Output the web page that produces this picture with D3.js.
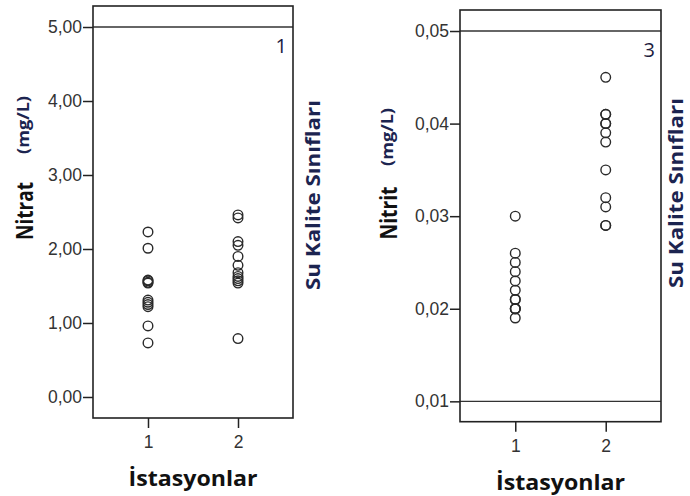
<!DOCTYPE html>
<html><head><meta charset="utf-8">
<script src="https://cdn.jsdelivr.net/npm/d3@7"></script>
<style>
html,body{margin:0;padding:0;background:#fff;}
svg{display:block;}
</style></head>
<body>
<svg id="chart" width="690" height="496"></svg>
<script>
// ---- data ----
const stations = [1, 2];
const nitratStation1 = [2.23, 2.01, 1.58, 1.57, 1.55, 1.54, 1.31, 1.28, 1.25, 1.22, 0.96, 0.73];
const nitratStation2 = [2.46, 2.42, 2.10, 2.05, 1.90, 1.78, 1.68, 1.63, 1.60, 1.57, 1.54, 0.79];
const nitritStation1 = [0.030, 0.026, 0.025, 0.024, 0.023, 0.022, 0.021, 0.021, 0.020, 0.020, 0.020, 0.019];
const nitritStation2 = [0.045, 0.041, 0.041, 0.040, 0.040, 0.039, 0.038, 0.035, 0.032, 0.031, 0.029, 0.029];
const nitratTicks = [0, 1, 2, 3, 4, 5];
const nitratTickLabels = ["0,00", "1,00", "2,00", "3,00", "4,00", "5,00"];
const nitritTicks = [0.01, 0.02, 0.03, 0.04, 0.05];
const nitritTickLabels = ["0,01", "0,02", "0,03", "0,04", "0,05"];
const nitratLimits = [5];
const nitritLimits = [0.05, 0.01];
const nitratClass = "1";
const nitritClass = "3";
const xTitle = "İstasyonlar";
const rightTitle = "Su Kalite Sınıfları";
const unitLabel = "(mg/L)";

const svg = d3.select("#chart");

function panel(cfg) {
  const g = svg.append("g");
  const x = d3.scaleLinear().domain([0.389, 2.611]).range([cfg.left, cfg.right]);
  const y = d3.scaleLinear().domain(cfg.yDomain).range([cfg.bottom, cfg.top]);

  // y axis
  const ya = g.append("g").attr("transform", `translate(${cfg.left},0)`)
    .call(d3.axisLeft(y).tickValues(cfg.ticks)
      .tickFormat((d, i) => cfg.tickLabels[i]).tickSize(10).tickSizeOuter(0).tickPadding(1));
  ya.select(".domain").remove();
  ya.selectAll(".tick line").attr("stroke", "#222").attr("stroke-width", 1.5);
  ya.selectAll(".tick text").attr("font-family", "Liberation Sans, Arial, sans-serif")
    .attr("font-size", 17.5).attr("fill", "#333");

  // x axis
  const xa = g.append("g").attr("transform", `translate(0,${cfg.bottom})`)
    .call(d3.axisBottom(x).tickValues(stations).tickFormat(d => String(d))
      .tickSize(10).tickSizeOuter(0).tickPadding(8));
  xa.select(".domain").remove();
  xa.selectAll(".tick line").attr("stroke", "#222").attr("stroke-width", 1.5);
  xa.selectAll(".tick text").attr("font-family", "Liberation Sans, Arial, sans-serif")
    .attr("font-size", 17.5).attr("fill", "#333");

  // limit lines
  g.selectAll("line.limit").data(cfg.limits).enter().append("line")
    .attr("class", "limit")
    .attr("x1", cfg.left).attr("x2", cfg.right)
    .attr("y1", d => y(d)).attr("y2", d => y(d))
    .attr("stroke", "#333").attr("stroke-width", 1.4);

  // frame
  g.append("rect").attr("x", cfg.left).attr("y", cfg.top)
    .attr("width", cfg.right - cfg.left).attr("height", cfg.bottom - cfg.top)
    .attr("fill", "none").attr("stroke", "#222").attr("stroke-width", 1.6);

  // points
  const pts = [];
  cfg.series[0].forEach(v => pts.push({s: stations[0], v}));
  cfg.series[1].forEach(v => pts.push({s: stations[1], v}));
  g.selectAll("circle").data(pts).enter().append("circle")
    .attr("cx", d => x(d.s)).attr("cy", d => y(d.v)).attr("r", 4.8)
    .attr("fill", "none").attr("stroke", "#2a2a2a").attr("stroke-width", 1.4);

  // class label
  g.append("text").attr("x", cfg.right - 6).attr("y", cfg.classY)
    .attr("text-anchor", "end").attr("font-family", "Open Sans, sans-serif")
    .attr("font-size", 20).attr("fill", "#1c1c40").text(cfg.classLabel);

  // y title
  g.append("text").attr("transform", `translate(${cfg.yTitleX},${cfg.yTitleY}) rotate(-90)`)
    .attr("text-anchor", "middle").attr("font-family", "Open Sans, sans-serif")
    .attr("font-weight", "bold").attr("font-size", 23).attr("fill", "#111")
    .attr("textLength", cfg.yTitleLen).attr("lengthAdjust", "spacingAndGlyphs")
    .text(cfg.yTitle);
  g.append("text").attr("transform", `translate(${cfg.unitX},${cfg.unitY}) rotate(-90)`)
    .attr("text-anchor", "middle").attr("font-family", "Open Sans, sans-serif")
    .attr("font-weight", "bold").attr("font-size", 16).attr("fill", "#1c2450")
    .attr("textLength", 58).attr("lengthAdjust", "spacingAndGlyphs")
    .text(unitLabel);

  // right title
  g.append("text").attr("transform", `translate(${cfg.rightTitleX},${cfg.rightTitleY}) rotate(-90)`)
    .attr("text-anchor", "middle").attr("font-family", "Open Sans, sans-serif")
    .attr("font-weight", "bold").attr("font-size", 19).attr("fill", "#1c2450")
    .attr("textLength", 190).attr("lengthAdjust", "spacingAndGlyphs")
    .text(rightTitle);

  // x title
  g.append("text").attr("x", (cfg.left + cfg.right) / 2).attr("y", cfg.xTitleY)
    .attr("text-anchor", "middle").attr("font-family", "Open Sans, sans-serif")
    .attr("font-weight", "bold").attr("font-size", 22).attr("fill", "#111")
    .attr("textLength", 129).attr("lengthAdjust", "spacingAndGlyphs")
    .text(xTitle);
}

panel({
  left: 93, right: 293, top: 6, bottom: 418,
  yDomain: [-0.284, 5.284], ticks: nitratTicks, tickLabels: nitratTickLabels,
  limits: nitratLimits, series: [nitratStation1, nitratStation2],
  classLabel: nitratClass, classY: 53,
  yTitle: "Nitrat", yTitleX: 33, yTitleY: 211, yTitleLen: 58,
  unitX: 29, unitY: 125,
  rightTitleX: 320, rightTitleY: 195,
  xTitleY: 486
});
panel({
  left: 460, right: 661, top: 10, bottom: 421.7,
  yDomain: [0.0078, 0.05227], ticks: nitritTicks, tickLabels: nitritTickLabels,
  limits: nitritLimits, series: [nitritStation1, nitritStation2],
  classLabel: nitritClass, classY: 57,
  yTitle: "Nitrit", yTitleX: 397, yTitleY: 213, yTitleLen: 53,
  unitX: 393, unitY: 137,
  rightTitleX: 683, rightTitleY: 193,
  xTitleY: 490
});
</script>
</body></html>
